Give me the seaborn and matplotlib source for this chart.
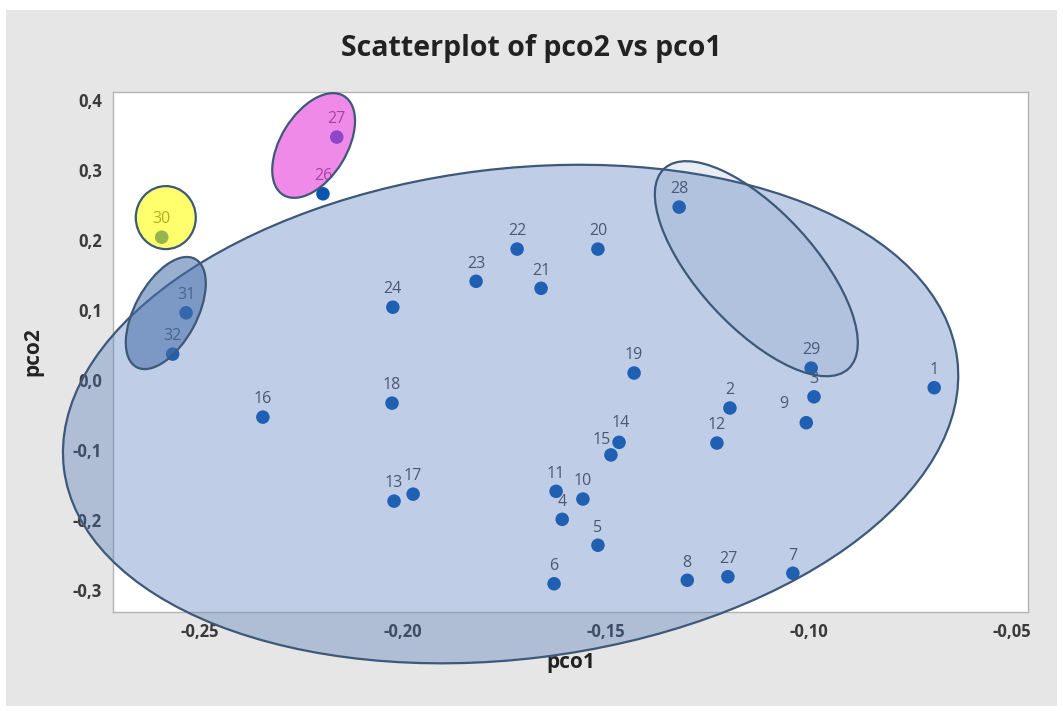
import matplotlib
matplotlib.use("Agg")
import matplotlib.pyplot as plt
import matplotlib.transforms as mtransforms
from matplotlib.patches import Ellipse, Rectangle
import seaborn as sns
import pandas as pd

# point data (pco1, pco2, label)
labels = ["1", "2", "3", "4", "5", "6", "7", "8", "9", "10", "11", "12", "13", "14", "15", "16",
          "17", "18", "19", "20", "21", "22", "23", "24", "26", "27", "27", "28", "29", "30", "31", "32"]
pco1 = [-0.0692, -0.1195, -0.0988, -0.1608, -0.1520, -0.1628, -0.1040, -0.1300, -0.1007, -0.1557,
        -0.1623, -0.1227, -0.2022, -0.1468, -0.1488, -0.2345, -0.1975, -0.2027, -0.1431, -0.1520,
        -0.1660, -0.1719, -0.1820, -0.2025, -0.2197, -0.2163, -0.1200, -0.1320, -0.0995, -0.2594,
        -0.2534, -0.2567]
pco2 = [-0.011, -0.040, -0.024, -0.199, -0.236, -0.291, -0.276, -0.286, -0.061, -0.170,
        -0.159, -0.090, -0.173, -0.089, -0.107, -0.053, -0.163, -0.033, 0.010, 0.187,
        0.131, 0.187, 0.141, 0.104, 0.266, 0.347, -0.281, 0.247, 0.017, 0.204,
        0.096, 0.037]

x_ticks = [-0.25, -0.20, -0.15, -0.10, -0.05]
x_ticklabels = ["-0,25", "-0,20", "-0,15", "-0,10", "-0,05"]
y_ticks = [0.4, 0.3, 0.2, 0.1, 0.0, -0.1, -0.2, -0.3]
y_ticklabels = ["0,4", "0,3", "0,2", "0,1", "0,0", "-0,1", "-0,2", "-0,3"]

# group outlines drawn over the plot: centre (data), size (pixels), angle, fill rgba
outlines = [
    ((-0.1735, -0.0486), 900, 490, 7.0, (0.29, 0.46, 0.72, 0.35)),
    ((-0.2220, 0.335), 116, 66, 58.4, (0.90, 0.24, 0.86, 0.60)),
    ((-0.2584, 0.232), 60, 63, 0.0, (1.00, 1.00, 0.00, 0.57)),
    ((-0.2584, 0.0957), 123, 62, 61.6, (0.27, 0.43, 0.67, 0.55)),
    ((-0.1130, 0.159), 272, 116, -47.4, (0.27, 0.43, 0.67, 0.12)),
]

df = pd.DataFrame({"pco1": pco1, "pco2": pco2, "label": labels})

sns.set_style("white")
plt.rcParams["font.family"] = ["Open Sans", "DejaVu Sans"]

fig = plt.figure(figsize=(10.63, 7.11), dpi=100, facecolor="white")
fig.add_artist(Rectangle((0.006, 0.007), 0.988, 0.979, transform=fig.transFigure,
                         facecolor="#e6e6e6", edgecolor="none", zorder=-10))
ax = fig.add_axes([0.1063, 0.1392, 0.8608, 0.7314])
ax.set_facecolor("white")

sns.scatterplot(data=df, x="pco1", y="pco2", color="#0a55b0", s=95, edgecolor="none",
                linewidth=0, ax=ax, zorder=3)

# a few labels sit off-centre in the reference
label_shift = {8: (-16, 8), 13: (1, 8), 14: (-7, 5)}
for i, row in df.iterrows():
    dx, dy = label_shift.get(i, (0, 7))
    ax.annotate(row["label"], (row["pco1"], row["pco2"]), xytext=(dx, dy),
                textcoords="offset points", ha="center", va="bottom",
                fontsize=11.5, color="#4a4a4a", zorder=4)

for (cx, cy), w, h, ang, fc in outlines:
    trans = fig.dpi_scale_trans + mtransforms.ScaledTranslation(cx, cy, ax.transData)
    e = Ellipse((0, 0), w / 100, h / 100, angle=ang, transform=trans,
                facecolor=fc, edgecolor="#3d5878", linewidth=1.6, zorder=6)
    e.set_clip_on(False)
    ax.add_patch(e)

ax.set_xlim(-0.2714, -0.0461)
ax.set_ylim(-0.3314, 0.4114)
ax.set_xticks(x_ticks)
ax.set_xticklabels(x_ticklabels)
ax.set_yticks(y_ticks)
ax.set_yticklabels(y_ticklabels)
ax.tick_params(direction="out", length=4, width=0.8, color="#a0a0a0",
               labelsize=12, labelcolor="#3a3a3a", pad=4)
for lab in ax.get_xticklabels() + ax.get_yticklabels():
    lab.set_fontweight("bold")
for sp in ax.spines.values():
    sp.set_color("#b4b4b4")
    sp.set_linewidth(1.0)

ax.set_xlabel("pco1", fontsize=15, fontweight="bold", color="#222222")
ax.set_ylabel("pco2", fontsize=15, fontweight="bold", color="#222222")
ax.xaxis.set_label_coords(0.5, -0.077)
ax.yaxis.set_label_coords(-0.076, 0.5)

fig.text(0.5, 0.932, "Scatterplot of pco2 vs pco1", ha="center", va="center",
         fontsize=20.5, fontweight="bold", color="#222222")

fig.savefig("out.png", dpi=100, facecolor=fig.get_facecolor())
